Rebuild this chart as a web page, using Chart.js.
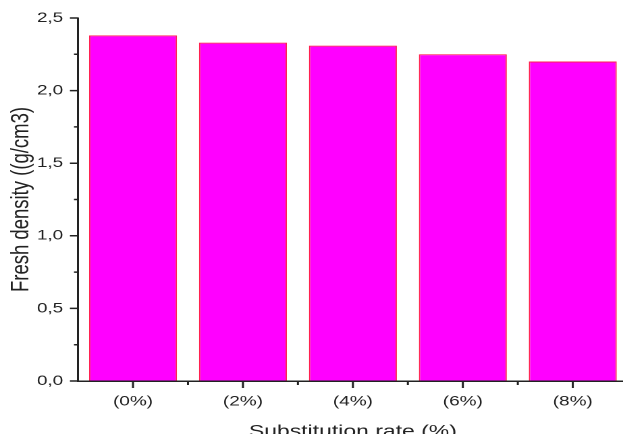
<!DOCTYPE html>
<html>
<head>
<meta charset="utf-8">
<script src="https://cdn.jsdelivr.net/npm/chart.js@4"></script>
<style>
  html, body { margin: 0; padding: 0; width: 623px; height: 434px; overflow: hidden; background: #fff; }
  /* the original picture is stretched sideways, so the canvas is too */
  #wrap { width: 470px; height: 445px; transform: scaleX(1.35); transform-origin: 0 0; }
</style>
</head>
<body>
<div id="wrap"><canvas id="grafico" width="470" height="445"></canvas></div>
<script>
// data
const categorias = ['(0%)', '(2%)', '(4%)', '(6%)', '(8%)'];
const densidade = [2.38, 2.33, 2.31, 2.25, 2.20];
const yMin = 0;
const yMax = 2.5;
const yPasso = 0.25;   // minor ticks, labels only every 0.5

const corTexto = '#222';
const fonte = 'Liberation Sans, Arial, sans-serif';

// ticks drawn by hand: long at labels, short in between
const marcasEixos = {
  id: 'marcasEixos',
  afterDraw(chart) {
    const ctx = chart.ctx;
    const x = chart.scales.x;
    const y = chart.scales.y;
    ctx.save();
    ctx.strokeStyle = corTexto;
    ctx.lineWidth = 1.5;
    ctx.beginPath();
    y.ticks.forEach((t, i) => {
      const py = y.getPixelForTick(i);
      const tam = t.label ? 6 : 3;
      ctx.moveTo(y.right - tam, py);
      ctx.lineTo(y.right, py);
    });
    x.ticks.forEach((t, i) => {
      const px = x.getPixelForTick(i);
      ctx.moveTo(px, x.top);
      ctx.lineTo(px, x.top + 7);
      if (i < x.ticks.length - 1) {
        const meio = (px + x.getPixelForTick(i + 1)) / 2;
        ctx.moveTo(meio, x.top);
        ctx.lineTo(meio, x.top + 4);
      }
    });
    ctx.stroke();
    ctx.restore();
  }
};

new Chart(document.getElementById('grafico'), {
  type: 'bar',
  data: {
    labels: categorias,
    datasets: [{
      label: 'Fresh density',
      data: densidade,
      backgroundColor: '#ff00ff',
      borderColor: '#ff2050',
      borderWidth: 1,
      barPercentage: 1,
      categoryPercentage: 0.8
    }]
  },
  options: {
    responsive: false,
    animation: false,
    devicePixelRatio: 2,
    layout: { padding: { top: 18, right: 5, left: 0, bottom: 0 } },
    plugins: {
      legend: { display: false },
      tooltip: { enabled: false }
    },
    scales: {
      x: {
        offset: true,
        grid: { display: true, drawOnChartArea: false, tickLength: 7, tickColor: 'transparent' },
        border: { display: true, color: corTexto, width: 1.5 },
        ticks: { color: corTexto, font: { family: fonte, size: 14 }, padding: 5, maxRotation: 0 },
        title: {
          display: true,
          text: 'Substitution rate (%)',
          color: corTexto,
          font: { family: fonte, size: 17 },
          padding: { top: 0, bottom: 3 }
        },
        afterFit(scale) { scale.height = 64; }
      },
      y: {
        min: yMin,
        max: yMax,
        grid: { display: true, drawOnChartArea: false, tickLength: 6, tickColor: 'transparent' },
        border: { display: true, color: corTexto, width: 1.5 },
        ticks: {
          stepSize: yPasso,
          autoSkip: false,
          color: corTexto,
          font: { family: fonte, size: 14 },
          padding: 5,
          callback: (v) => (Math.round(v * 100) % 50 === 0) ? v.toFixed(1).replace('.', ',') : ''
        },
        title: {
          display: true,
          text: 'Fresh density ((g/cm3)',
          color: corTexto,
          font: { family: fonte, size: 18.5 },
          padding: { top: 5, bottom: 0 }
        },
        afterFit(scale) { scale.width = 57.8; }
      }
    }
  },
  plugins: [marcasEixos]
});
</script>
</body>
</html>
